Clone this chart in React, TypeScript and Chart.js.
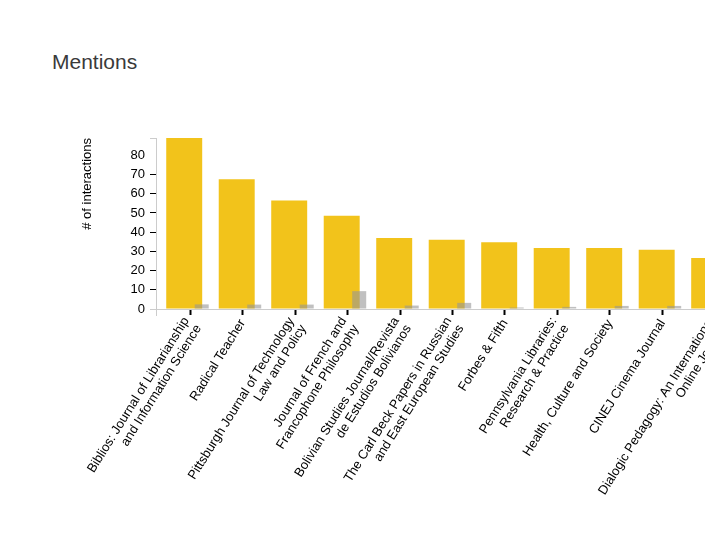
import { useEffect, useRef } from "react"
import { Chart, registerables } from "chart.js"

Chart.register(...registerables)

// journal names (multi-line where the original wraps)
const journals = [
  ["Biblios: Journal of Librarianship", "and Information Science"],
  "Radical Teacher",
  ["Pittsburgh Journal of Technology", "Law and Policy"],
  ["Journal of French and", "Francophone Philosophy"],
  ["Bolivian Studies Journal/Revista", "de Estudios Bolivianos"],
  ["The Carl Beck Papers in Russian", "and East European Studies"],
  "Forbes & Fifth",
  ["Pennsylvania Libraries:", "Research & Practice"],
  "Health, Culture and Society",
  "CINEJ Cinema Journal",
  ["Dialogic Pedagogy: An International", "Online Journal"],
]
const journalIndex = journals.map((_, i) => i)
const mentions = [89, 67.5, 56.5, 48.5, 37, 36, 34.8, 31.8, 31.8, 30.8, 26.5]
const otherMentions = [2.4, 2.3, 2.3, 9.3, 1.8, 3.2, 0.8, 1.1, 1.6, 1.6, 1]
const yMax = 89
const yStep = 10

const FONT = "'Liberation Sans', Arial, sans-serif"
const AXIS_GREY = "#cccccc"

// d3-style outer ticks at the ends of the axis lines
const outerTicks = {
  id: "outerTicks",
  afterDraw(chart) {
    const { ctx, chartArea } = chart
    ctx.save()
    ctx.strokeStyle = AXIS_GREY
    ctx.lineWidth = 1
    ctx.beginPath()
    ctx.moveTo(chartArea.left - 6, chartArea.top + 0.5)
    ctx.lineTo(chartArea.left, chartArea.top + 0.5)
    ctx.moveTo(chartArea.left + 0.5, chartArea.bottom)
    ctx.lineTo(chartArea.left + 0.5, chartArea.bottom + 7)
    ctx.stroke()
    ctx.restore()
  },
}

// lift wrapped x labels a little so the block sits closer to its tick
const liftWrappedLabels = {
  id: "liftWrappedLabels",
  beforeDraw(chart) {
    const items = chart.scales.x.getLabelItems()
    items.forEach((item) => {
      if (Array.isArray(item.label) && !item._lifted) {
        item.textOffset -= (item.label.length - 1) * item.font.lineHeight * 0.3
        item._lifted = true
      }
    })
  },
}

export default function App() {
  const chartRef = useRef<HTMLCanvasElement | null>(null)
  const chartInstance = useRef<Chart | null>(null)

  useEffect(() => {
    if (!chartRef.current) return
    if (chartInstance.current) chartInstance.current.destroy()

    const ctx = chartRef.current.getContext("2d")
    chartInstance.current = new Chart(ctx, {
      type: "bar",
      data: {
        labels: journalIndex,
        datasets: [
          // empty placeholder so the grey bars sit in the second slot but paint above the yellow ones
          { label: "", data: [], stack: "a" },
          {
            label: "Other",
            data: otherMentions,
            stack: "b",
            backgroundColor: "rgba(150, 150, 150, 0.6)",
            categoryPercentage: 0.892,
            barPercentage: 0.598,
          },
          {
            label: "Mentions",
            data: mentions,
            stack: "a",
            backgroundColor: "#f2c31b",
            categoryPercentage: 0.442,
            barPercentage: 3.1,
          },
        ],
      },
      options: {
        responsive: true,
        maintainAspectRatio: false,
        animation: false,
        layout: { padding: { top: 138, left: 0, right: 11, bottom: 0 } },
        plugins: {
          legend: { display: false },
          tooltip: { enabled: false },
        },
        scales: {
          x: {
            type: "linear",
            offset: false,
            min: -0.648,
            max: journals.length - 1 + 0.648,
            grid: {
              offset: false,
              drawOnChartArea: false,
              tickLength: 6,
              tickColor: "#000",
              tickWidth: 2,
            },
            border: { color: AXIS_GREY },
            ticks: {
              stepSize: 1,
              includeBounds: false,
              autoSkip: false,
              minRotation: 58,
              maxRotation: 58,
              padding: 2,
              color: "#000",
              font: { size: 13, family: FONT, lineHeight: 1.1 },
              callback: (v) => journals[v as number],
            },
            afterFit: (scale) => {
              scale.height = 231
            },
          },
          y: {
            min: 0,
            max: yMax,
            stacked: false,
            grid: {
              drawOnChartArea: false,
              tickLength: 6,
              tickColor: (c) =>
                c.tick.value === 0 ? AXIS_GREY : c.tick.value === 80 ? "rgba(0,0,0,0)" : "#000",
            },
            border: { color: AXIS_GREY },
            ticks: {
              stepSize: yStep,
              includeBounds: false,
              padding: 5,
              color: "#000",
              font: { size: 13, family: FONT },
            },
            title: {
              display: true,
              text: "# of interactions",
              align: "end",
              color: "#000",
              font: { size: 13, family: FONT },
              padding: { top: 80, bottom: 0 },
            },
            afterFit: (scale) => {
              scale.width = 156
            },
          },
        },
      },
      plugins: [outerTicks, liftWrappedLabels],
    })

    return () => {
      if (chartInstance.current) {
        chartInstance.current.destroy()
        chartInstance.current = null
      }
    }
  }, [])

  return (
    <div
      style={{
        position: "fixed",
        left: 0,
        top: 0,
        width: 705,
        height: 540,
        overflow: "hidden",
        background: "#fff",
      }}
    >
      <div
        style={{
          position: "absolute",
          left: 52,
          top: 51,
          fontFamily: FONT,
          fontSize: 21,
          lineHeight: 1,
          color: "#3a3a3a",
        }}
      >
        Mentions
      </div>
      <div style={{ position: "absolute", left: 0, top: 0, width: 760, height: 540 }}>
        <canvas ref={chartRef}></canvas>
      </div>
    </div>
  )
}
